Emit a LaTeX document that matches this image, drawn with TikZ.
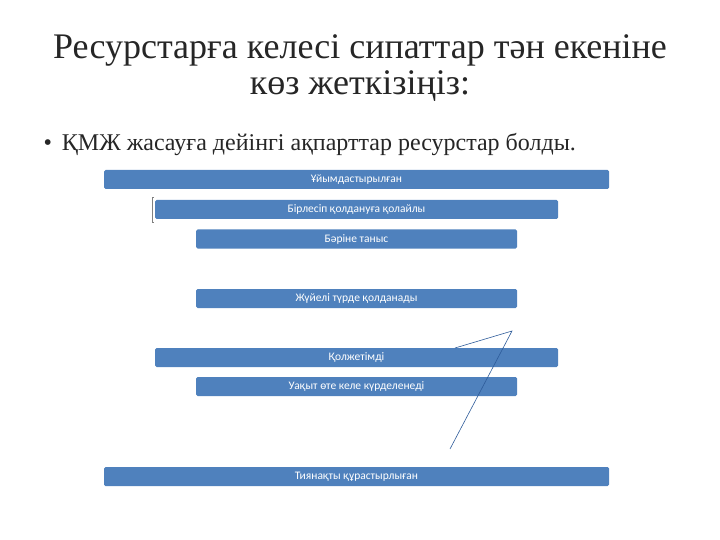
\documentclass[tikz,border=0pt]{standalone}
\usepackage{fontspec}
\setmainfont{Liberation Serif}
\newfontfamily\barfont{Carlito}
\definecolor{barblue}{HTML}{4F81BD}
\definecolor{linkblue}{HTML}{2E5C9A}
\tikzset{bar/.style={fill=barblue,rounded corners=1.5pt,text=white,font=\barfont\fontsize{11.5}{13}\selectfont,inner sep=0pt}}
\newcommand{\levelbar}[5]{\node[bar,minimum width=#3-#2,minimum height=19] (#1) at ({(#2+#3)/2},#4) {#5};}
\begin{document}
\begin{tikzpicture}[x=1pt,y=-1pt]
            \useasboundingbox (0,0) rectangle (720,540);
            \node[font=\fontsize{36}{36}\selectfont,align=center,text=black!85] (title) at (360,68) {Ресурстарға келесі сипаттар тән екеніне\\көз жеткізіңіз:};
            \node[font=\fontsize{24}{28}\selectfont,anchor=west,text=black!85] (bullet) at (40,145) {•\hspace{10pt}ҚМЖ жасауға дейінгі ақпарттар ресурстар болды.};

            \levelbar{b1}{104}{609}{179.5}{Ұйымдастырылған}
            \levelbar{b2}{155}{558}{209.5}{Бірлесіп қолдануға қолайлы}
            \levelbar{b3}{196}{517}{239}{Бәріне таныс}
            \levelbar{b4}{196}{517}{298.5}{Жүйелі түрде қолданады}
            \levelbar{b5}{155}{558}{357.5}{Қолжетімді}
            \levelbar{b6}{196}{517}{386.5}{Уақыт өте келе күрделенеді}
            \levelbar{b7}{104}{609}{476.5}{Тиянақты құрастырлыған}

            % bracket at the left of the second bar
            \draw[gray,line width=0.6pt] (154,197) -- (152,197) -- (152,222) -- (154,222);

            % stray line
            \coordinate (p1) at (455,348);
            \coordinate (p2) at (512,331);
            \coordinate (p3) at (450,449);
            \draw[linkblue,line width=0.6pt] (p1) -- (p2) -- (p3);
\end{tikzpicture}
\end{document}
